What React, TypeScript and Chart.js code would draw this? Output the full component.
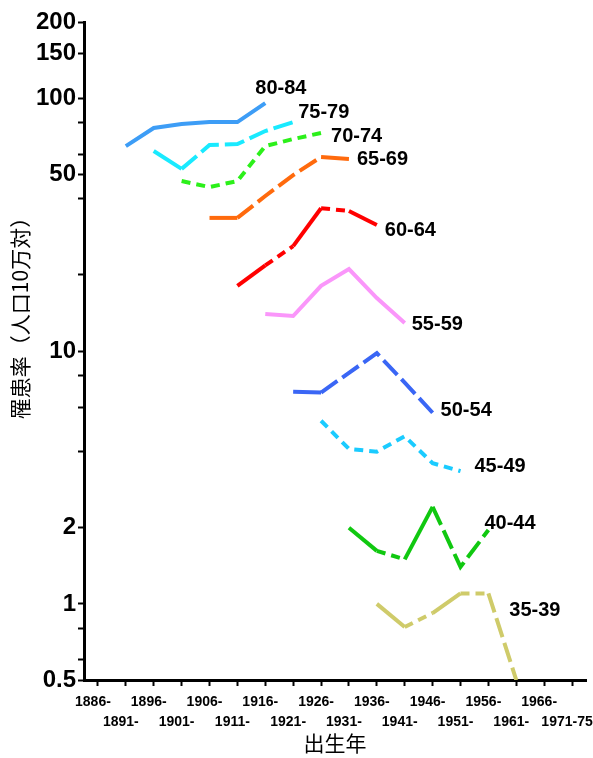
import React, { useEffect, useRef } from "react";
import { Chart, registerables } from "chart.js";

Chart.register(...registerables);

// ---- data ----
const birthCohorts = [
  "1886-", "1891-", "1896-", "1901-", "1906-", "1911-", "1916-", "1921-", "1926-",
  "1931-", "1936-", "1941-", "1946-", "1951-", "1956-", "1961-", "1966-", "1971-75",
];

const ageGroups = ["80-84", "75-79", "70-74", "65-69", "60-64", "55-59", "50-54", "45-49", "40-44", "35-39"];

const n = null;
const rate80_84 = [n, 64.6, 76.2, 79, 80.4, 80.4, 95.6, n, n, n, n, n, n, n, n, n, n, n];
const rate75_79 = [n, n, 61.8, 52.5, 65.2, 65.8, 74.1, 80.4, n, n, n, n, n, n, n, n, n, n];
const rate70_74 = [n, n, n, 47, 44.5, 47, 64.6, 68.9, 72.8, n, n, n, n, n, n, n, n, n];
const rate65_69 = [n, n, n, n, 33.6, 33.6, 41, 49.6, 58.5, 57.4, n, n, n, n, n, n, n, n];
const rate60_64 = [n, n, n, n, n, 18.1, 21.8, 26, 36.7, 35.8, 31.5, n, n, n, n, n, n, n];
const rate55_59 = [n, n, n, n, n, n, 14, 13.75, 18.1, 21.1, 16.2, 12.9, n, n, n, n, n, n];
const rate50_54 = [n, n, n, n, n, n, n, 6.9, 6.85, 8.2, 9.8, 7.5, 5.7, n, n, n, n, n];
const rate45_49 = [n, n, n, n, n, n, n, n, 5.3, 4.1, 4.0, 4.6, 3.6, 3.35, n, n, n, n];
const rate40_44 = [n, n, n, n, n, n, n, n, n, 2.0, 1.62, 1.5, 2.42, 1.4, 1.96, n, n, n];
const rate35_39 = [n, n, n, n, n, n, n, n, n, n, 1.0, 0.81, 0.92, 1.1, 1.1, 0.5, n, n];

const seriesValues = [
  rate80_84, rate75_79, rate70_74, rate65_69, rate60_64,
  rate55_59, rate50_54, rate45_49, rate40_44, rate35_39,
];

const yTickValues = [0.5, 0.6, 0.8, 1, 2, 4, 6, 8, 10, 20, 40, 50, 60, 80, 100, 150, 200];
const yTickLabels = [0.5, 1, 2, 10, 50, 100, 150, 200];

const yTitle = "罹患率（人口10万対）";
const xTitle = "出生年";

// ---- styles ----
const colors = [
  "#3D9DF6", "#19EAFF", "#2CF01A", "#FF6A0D", "#FF0000",
  "#FA96FA", "#3A66F5", "#1ACBFF", "#10C810", "#CFCB6A",
];
const DASH: Record<string, number[]> = { S: [], D: [9, 6], L: [20, 6] };
const segmentStyles = [
  "SSSSS", "SLLLL", "DDDDD", "SLLLS", "SDSDS",
  "SSSSS", "SLLLL", "DDDDD", "SDSLL", "SDSDL",
];
const labelDx = [-10, 5, 10, 8, 8, 7, 8, 14, -4, -7];
const labelDy = [-15, -9.5, 3.5, 0.5, 5.5, 1.5, -2, -4.5, -6.5, -69.5];

const seriesLabelPlugin = {
  id: "seriesLabels",
  afterDatasetsDraw(chart: any) {
    const { ctx } = chart;
    ctx.save();
    ctx.font = 'bold 20px "Liberation Sans", Arial, sans-serif';
    ctx.fillStyle = "#000";
    ctx.textAlign = "left";
    ctx.textBaseline = "middle";
    chart.data.datasets.forEach((ds: any, i: number) => {
      const meta = chart.getDatasetMeta(i);
      let last = -1;
      ds.data.forEach((v: any, j: number) => {
        if (v !== null && v !== undefined) last = j;
      });
      if (last < 0) return;
      const el = meta.data[last];
      ctx.fillText(ds.label, el.x + labelDx[i], el.y + labelDy[i]);
    });
    ctx.restore();
  },
};

const yTitlePlugin = {
  id: "yTitle",
  afterDraw(chart: any) {
    const { ctx, chartArea } = chart;
    ctx.save();
    ctx.translate(20, (chartArea.top + chartArea.bottom) / 2 - 38);
    ctx.rotate(-Math.PI / 2);
    ctx.font = '21px "Noto Sans CJK JP", sans-serif';
    ctx.fillStyle = "#000";
    ctx.textAlign = "center";
    ctx.textBaseline = "middle";
    ctx.fillText(yTitle, 0, 0);
    ctx.restore();
  },
};

export default function App() {
  const canvasRef = useRef<HTMLCanvasElement | null>(null);

  useEffect(() => {
    if (!canvasRef.current) return;
    const datasets = ageGroups.map((label, i) => {
      const first = seriesValues[i].findIndex((v) => v !== null);
      return {
        label,
        data: seriesValues[i],
        borderColor: colors[i],
        backgroundColor: colors[i],
        borderWidth: 4,
        pointRadius: 0,
        pointHoverRadius: 0,
        fill: false,
        tension: 0,
        spanGaps: false,
        borderCapStyle: "butt",
        borderJoinStyle: "miter",
        segment: {
          borderDash: (ctx: any) => {
            const k = ctx.p0DataIndex - first;
            const code = segmentStyles[i][k] || "S";
            return DASH[code];
          },
        },
      };
    });

    const chart = new Chart(canvasRef.current, {
      type: "line",
      data: { labels: birthCohorts, datasets: datasets as any },
      plugins: [seriesLabelPlugin, yTitlePlugin],
      options: {
        animation: false,
        responsive: true,
        maintainAspectRatio: false,
        layout: { padding: { top: 22, right: 7, left: 0, bottom: 0 } },
        plugins: { legend: { display: false }, tooltip: { enabled: false }, title: { display: false } },
        scales: {
          x: {
            type: "category",
            offset: true,
            border: { display: true, color: "#000", width: 3 },
            grid: {
              display: true,
              drawOnChartArea: false,
              drawTicks: true,
              tickLength: 6,
              tickWidth: 2,
              tickColor: "#000",
              offset: false,
            },
            ticks: {
              autoSkip: false,
              maxRotation: 0,
              minRotation: 0,
              padding: 6,
              labelOffset: -5,
              color: "#000",
              font: { family: '"Liberation Sans", Arial, sans-serif', weight: "bold", size: 14, lineHeight: 1.43 },
              callback: (_v: any, i: number) => (i % 2 === 0 ? [birthCohorts[i], ""] : ["", birthCohorts[i]]),
            },
            title: {
              display: true,
              text: xTitle,
              color: "#000",
              font: { family: '"Noto Sans CJK JP", sans-serif', size: 21, lineHeight: 1.2 },
              padding: { top: 0, bottom: 2 },
            },
            afterFit: (s: any) => {
              s.height = 78;
              s.paddingLeft = 0;
              s.paddingRight = 0;
            },
          },
          y: {
            type: "logarithmic",
            min: 0.5,
            max: 200,
            border: { display: true, color: "#000", width: 3 },
            grid: {
              display: true,
              drawOnChartArea: false,
              drawTicks: true,
              tickLength: 6,
              tickWidth: 2,
              tickColor: "#000",
            },
            ticks: {
              autoSkip: false,
              padding: 2,
              color: "#000",
              font: { family: '"Liberation Sans", Arial, sans-serif', weight: "bold", size: 24 },
              callback: (v: any) => (yTickLabels.includes(Number(v)) ? String(v) : ""),
            },
            afterBuildTicks: (s: any) => {
              s.ticks = yTickValues.map((v) => ({ value: v }));
            },
            afterFit: (s: any) => {
              s.width = 84;
              s.paddingTop = 0;
              s.paddingBottom = 0;
            },
          },
        },
      } as any,
    });
    return () => chart.destroy();
  }, []);

  return (
    <div style={{ position: "absolute", left: 0, top: 0, width: 593, height: 758, background: "#fff" }}>
      <canvas ref={canvasRef} />
    </div>
  );
}
